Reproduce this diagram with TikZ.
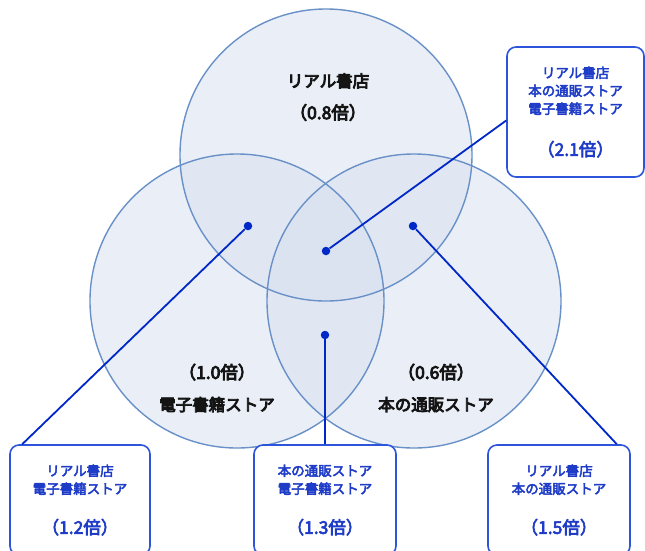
\documentclass[tikz,border=0pt]{standalone}
\usepackage{fontspec}
\newfontfamily\jpfont{Noto Sans CJK JP}[FakeBold=3.5]
\newfontfamily\jpheavy{Noto Sans CJK JP}[FakeBold=5]
\usepackage{xcolor}
\usepackage{tikz}
\definecolor{vennfill}{RGB}{215,225,241}
\definecolor{venndraw}{RGB}{105,145,200}
\definecolor{linkblue}{RGB}{0,40,200}
\definecolor{boxblue}{RGB}{45,85,220}
\definecolor{txtblue}{RGB}{30,60,200}
\definecolor{txtdark}{RGB}{20,20,20}
\newcommand{\ratiofont}{\fontsize{17.5}{20}\selectfont}

\begin{document}
\begin{tikzpicture}[x=1pt, y=-1pt,
		venn/.style={fill=vennfill, fill opacity=0.5},
		rim/.style={draw=venndraw, line width=1.4pt},
		dot/.style={circle, fill=linkblue, inner sep=0pt, minimum size=8.5pt},
		link/.style={draw=linkblue, line width=1.8pt},
		infobox/.style={draw=boxblue, line width=1.6pt, rounded corners=9pt, fill=white, text=txtblue, align=center, inner sep=0pt, font=\jpfont\fontsize{13.5}{18}\selectfont},
		setlabel/.style={text=txtdark, align=center, font=\jpheavy\fontsize{16.5}{32}\selectfont}]
				\useasboundingbox (0,0) rectangle (645,550);
				\clip (0,0) rectangle (645,550);
				\fill[white] (0,0) rectangle (645,550);
				\fill[venn] (326,155) circle (146pt);
				\fill[venn] (237,301) circle (147pt);
				\fill[venn] (414,301) circle (147pt);
				\draw[rim] (326,155) circle (146pt);
				\draw[rim] (237,301) circle (147pt);
				\draw[rim] (414,301) circle (147pt);
				\node[setlabel] (lblR) at (328,97) {リアル書店\\{\ratiofont（0.8倍）}};
				\node[setlabel] (lblE) at (217,388) {{\ratiofont（1.0倍）}\\電子書籍ストア};
				\node[setlabel] (lblM) at (436,388) {{\ratiofont（0.6倍）}\\本の通販ストア};
				\node[dot] (dRE) at (248,226) {};
				\node[dot] (dRME) at (326,251) {};
				\node[dot] (dRM) at (413,226) {};
				\node[dot] (dME) at (325,335) {};
				\node[infobox, minimum width=137pt, minimum height=130pt] (bRME) at (575.5,112) {リアル書店\\本の通販ストア\\電子書籍ストア\\[24pt]{\ratiofont（2.1倍）}};
				\node[infobox, minimum width=140pt, minimum height=110pt] (bRE) at (80,500) {リアル書店\\電子書籍ストア\\[22pt]{\ratiofont（1.2倍）}};
				\node[infobox, minimum width=142pt, minimum height=110pt] (bME) at (325,500) {本の通販ストア\\電子書籍ストア\\[22pt]{\ratiofont（1.3倍）}};
				\node[infobox, minimum width=142pt, minimum height=110pt] (bRM) at (559,500) {リアル書店\\本の通販ストア\\[22pt]{\ratiofont（1.5倍）}};
				\draw[link] (dRME) -- (bRME.187);
				\draw[link] (dRE) -- (bRE.136);
				\draw[link] (dME) -- (bME.north);
				\draw[link] (dRM) -- (bRM.44);
			\end{tikzpicture}
\end{document}
